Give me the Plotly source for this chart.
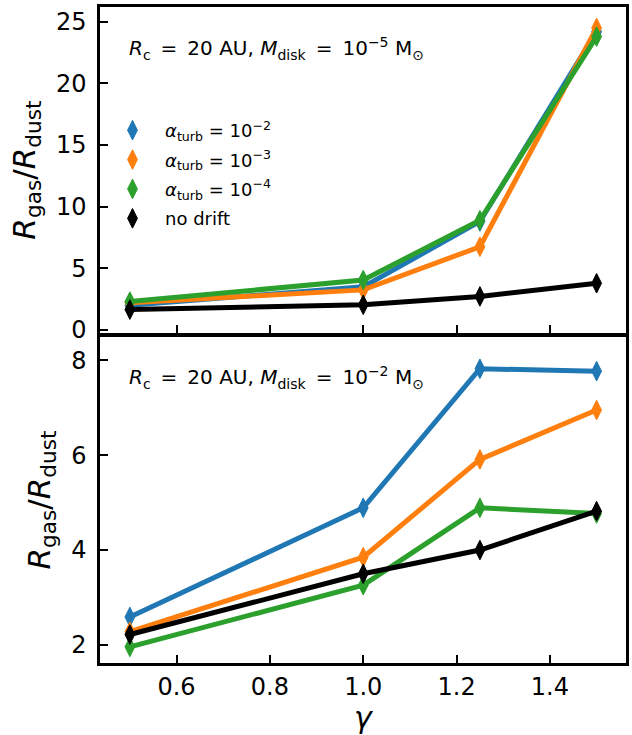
import plotly.graph_objects as go
from plotly.subplots import make_subplots

gamma = [0.5, 1.0, 1.25, 1.5]

# top panel: M_disk = 1e-5
top_a2 = [2.0, 3.5, 8.8, 24.2]
top_a3 = [2.2, 3.25, 6.75, 24.5]
top_a4 = [2.3, 4.05, 8.9, 23.8]
top_nd = [1.65, 2.04, 2.72, 3.79]

# bottom panel: M_disk = 1e-2
bot_a2 = [2.59, 4.89, 7.82, 7.77]
bot_a3 = [2.28, 3.85, 5.91, 6.95]
bot_a4 = [1.96, 3.26, 4.89, 4.77]
bot_nd = [2.22, 3.50, 4.00, 4.82]

names = ["<i>α</i><sub>turb</sub> = 10<sup>−2</sup>",
         "<i>α</i><sub>turb</sub> = 10<sup>−3</sup>",
         "<i>α</i><sub>turb</sub> = 10<sup>−4</sup>",
         "no drift"]
colors = ["#1f77b4", "#ff7f0e", "#2ca02c", "#000000"]

top_vals = [top_a2, top_a3, top_a4, top_nd]
bot_vals = [bot_a2, bot_a3, bot_a4, bot_nd]

top_yticks = [0, 5, 10, 15, 20, 25]
bot_yticks = [2, 4, 6, 8]
xticks = [0.6, 0.8, 1.0, 1.2, 1.4]

FONT = "DejaVu Sans"

fig = make_subplots(rows=2, cols=1, shared_xaxes=True, vertical_spacing=0.006)

marker_kw = dict(symbol="diamond-tall", size=14)

for row, vals in ((1, top_vals), (2, bot_vals)):
    for name, c, v in zip(names, colors, vals):
        fig.add_trace(go.Scatter(
            x=gamma, y=v, mode="lines+markers", name=name,
            line=dict(color=c, width=5),
            marker=dict(color=c, line=dict(color=c, width=1), **marker_kw),
            showlegend=False), row=row, col=1)

# legend entries (markers only)
for i, (name, c) in enumerate(zip(names, colors)):
    fig.add_trace(go.Scatter(
        x=[None], y=[None], mode="markers", name=name, legendgroup=f"g{i}",
        marker=dict(color=c, line=dict(color=c, width=1), **marker_kw),
        showlegend=True), row=1, col=1)

axis_common = dict(showline=True, linewidth=2.5, linecolor="black", mirror=True,
                   ticks="inside", ticklen=8, tickwidth=2, tickcolor="black",
                   showgrid=False, zeroline=False,
                   tickfont=dict(family=FONT, size=24, color="black"))

fig.update_xaxes(range=[0.436, 1.563], tickvals=xticks, **axis_common)
fig.update_xaxes(showticklabels=False, row=1, col=1)
fig.update_xaxes(ticktext=[f"{t:.1f}" for t in xticks], ticklabelstandoff=0,
                 title=dict(text="<i>γ</i>", font=dict(family=FONT, size=30, color="black"),
                            standoff=6), row=2, col=1)

ytitle = "<i>R</i><sub>gas</sub>/<i>R</i><sub>dust</sub>"
fig.update_yaxes(range=[-0.25, 26.2], tickvals=top_yticks, ticklabelstandoff=6,
                 title=dict(text=ytitle, font=dict(family=FONT, size=31, color="black"),
                            standoff=12),
                 row=1, col=1, **axis_common)
fig.update_yaxes(range=[1.62, 8.49], tickvals=bot_yticks, ticklabelstandoff=6,
                 title=dict(text=ytitle, font=dict(family=FONT, size=31, color="black"),
                            standoff=12),
                 row=2, col=1, **axis_common)

fig.update_layout(
    yaxis=dict(domain=[0.503, 1.0]),
    yaxis2=dict(domain=[0.0, 0.497]),
)

EQ = "\u2002=\u2002"
ann_top = f"<i>R</i><sub>c</sub>{EQ}20 AU, <i>M</i><sub>disk</sub>{EQ}10<sup>−5</sup> M<sub>⊙</sub>"
ann_bot = f"<i>R</i><sub>c</sub>{EQ}20 AU, <i>M</i><sub>disk</sub>{EQ}10<sup>−2</sup> M<sub>⊙</sub>"
fig.add_annotation(text=ann_top, xref="x domain", yref="y domain", x=0.051, y=0.874,
                   xanchor="left", yanchor="middle", showarrow=False,
                   font=dict(family=FONT, size=20, color="black"))
fig.add_annotation(text=ann_bot, xref="x2 domain", yref="y2 domain", x=0.051, y=0.877,
                   xanchor="left", yanchor="middle", showarrow=False,
                   font=dict(family=FONT, size=20, color="black"))

fig.update_layout(
    width=632, height=735,
    margin=dict(l=100, r=6, t=7, b=72, autoexpand=False),
    paper_bgcolor="white", plot_bgcolor="white",
    font=dict(family=FONT, color="black"),
    legend=dict(x=0.0, y=0.84, xanchor="left", yanchor="top",
                bgcolor="rgba(0,0,0,0)", font=dict(family=FONT, size=18, color="black"),
                tracegroupgap=3, itemwidth=55),
)

fig.write_html("out.html", config={"displayModeBar": False})

# remove default browser body margin so the figure sits at the page origin
with open("out.html", "r", encoding="utf-8") as f:
    html = f.read()
html = html.replace("<head>", "<head><style>html,body{margin:0;padding:0;overflow:hidden;}</style>", 1)
with open("out.html", "w", encoding="utf-8") as f:
    f.write(html)
